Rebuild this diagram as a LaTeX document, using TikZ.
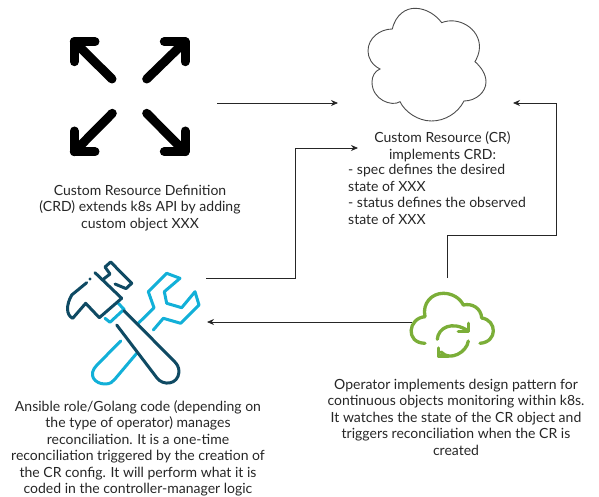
\documentclass[tikz,border=0pt]{standalone}
\usepackage{fontspec}
\setmainfont{Lato}
\usepackage{tikz}
\usetikzlibrary{arrows.meta, positioning}

\definecolor{toolnavy}{HTML}{0F4A63}
\definecolor{toolcyan}{HTML}{12B0D8}
\definecolor{syncgreen}{HTML}{7BAE38}
\tikzset{
    caption/.style={inner sep=0pt, font=\fontsize{14}{16.5}\selectfont, align=center, text=black!85},
    link/.style={-{Stealth[length=7pt,width=6pt]}, line width=0.8pt, black!85},
    bigarrow/.style={line width=9pt, line cap=round, line join=round},
    navyline/.style={toolnavy, line width=3pt, line cap=round, line join=round},
    cyanline/.style={toolcyan, line width=3pt, line cap=round, line join=round},
    greenline/.style={syncgreen, line width=3.3pt, line cap=round, line join=round}
}

\begin{document}
\begin{tikzpicture}[x=1pt,y=-1pt]
    \useasboundingbox (0,0) rectangle (599,497);

    % four arrows
    \draw[bigarrow] (112,79) -- (74.3,41.7);
    \draw[bigarrow] (95,41.7) -- (74.3,41.7) -- (74.3,61.7);
    \draw[bigarrow] (146.7,79) -- (185,41.7);
    \draw[bigarrow] (164.3,41.7) -- (185,41.7) -- (185,61.7);
    \draw[bigarrow] (112.3,113.3) -- (74.3,151.7);
    \draw[bigarrow] (95,151.7) -- (74.3,151.7) -- (74.3,131);
    \draw[bigarrow] (146.7,113.3) -- (185,151.7);
    \draw[bigarrow] (164.3,151.7) -- (185,151.7) -- (185,131);

    % cloud
    \draw[line width=0.9pt, black!70] (392.3,29) .. controls (396,14) and (406,8.3) .. (415,8.3)
        .. controls (426,8.3) and (436,15) .. (441.7,22.7)
        .. controls (458,16) and (479.5,28) .. (479.5,47)
        .. controls (479.5,53) and (477,58) .. (475,61.7)
        .. controls (481,67) and (486,74) .. (486,82)
        .. controls (486,92) and (476,101) .. (464,101)
        .. controls (458,113) and (445,121) .. (431.5,121)
        .. controls (418,121) and (405,112) .. (400,101.7)
        .. controls (392,107) and (372,100) .. (372,82)
        .. controls (372,76) and (375,71) .. (380,69)
        .. controls (372,65) and (368,58) .. (368,51)
        .. controls (368,38) and (380,29) .. (392.3,29) -- cycle;

    % wrench
    \draw[cyanline] (153.3,330) -- (163.3,318.3) -- (180.7,323.3) -- (199,305) -- (195,291.7)
        -- (181.7,307.7) -- (166.7,303.3) -- (164.3,291.7) -- (180,278.3) -- (166.7,273.3)
        -- (148.3,291.7) -- (154,307.7) -- (138.3,323.3);
    \draw[cyanline] (120.7,341) -- (97,365) .. controls (87,375) and (95,384) .. (105,384)
        .. controls (110,384) and (113,382) .. (115,379) -- (136.7,353.3);
    \draw[cyanline] (105,318.3) -- (110,322.3) -- (124,309.3) -- (118.3,303.3);

    % hammer
    \draw[navyline] (116.7,325) -- (157,378) .. controls (163,386) and (178,385) .. (179,372)
        .. controls (179,367) and (177,364) .. (174,361) -- (124,310.7);
    \draw[navyline] (121.7,298.3) -- (99.3,317.7) -- (85.7,303.3) -- (72.7,318.3)
        .. controls (66,315) and (66,305) .. (71.7,295) -- (86.7,282.7);
    \draw[navyline] (95,272.7) -- (121.7,298.3);
    \draw[navyline] (103.3,279.3) -- (110,274) -- (105,267) -- (110.7,262) -- (131.7,283.3)
        -- (126,288.6) -- (115,284);
    \fill[toolnavy] (90,279) circle (1.7);

    % sync cloud
    \draw[greenline] (425,343.3) .. controls (405,343) and (408,318) .. (425,316.7)
        .. controls (422,303) and (432,293.3) .. (443.3,293.3)
        .. controls (452,293.3) and (460,298) .. (463.3,305)
        .. controls (472,303) and (481,308) .. (481.7,318)
        .. controls (497,320) and (498,342) .. (480,343.3);
    \draw[greenline] (437.3,339.3) .. controls (438,328) and (452,320) .. (468.3,331);
    \draw[greenline] (468.3,323.3) -- (468.3,331.7) -- (458.3,331.7);
    \draw[greenline] (468.3,341) .. controls (467,352) and (450,362) .. (441,352);
    \draw[greenline] (438.3,348) -- (438.3,356) -- (448,356);

    % captions
    \node[caption] (crdtext) at (140,208) {Custom Resource Definition\\(CRD) extends k8s API by adding\\custom object XXX};
    \node[caption] (crtitle) at (442.5,147) {Custom Resource (CR)\\implements CRD:};
    \node[caption, align=left, anchor=north west] (crtext) at (348,164) {- spec defines the desired\\state of XXX\\- status defines the observed\\state of XXX};
    \node[caption] (tooltext) at (138,448.5) {Ansible role/Golang code (depending on\\the type of operator) manages\\reconciliation. It is a one-time\\reconciliation triggered by the creation of\\the CR config. It will perform what it is\\coded in the controller-manager logic};
    \node[caption] (optext) at (456,417) {Operator implements design pattern for\\continuous objects monitoring within k8s.\\It watches the state of the CR object and\\triggers reconciliation when the CR is\\created};

    % connector ends
    \coordinate (crdout) at (217,103);
    \coordinate (crleft) at (338,103);
    \coordinate (toolout) at (206,278);
    \coordinate (crmid) at (358,148);
    \coordinate (opup) at (447,278);
    \coordinate (crright) at (513,103);
    \coordinate (opleft) at (412,322);
    \coordinate (toolin) at (207,322);

    \draw[link] (crdout) -- (crleft);
    \draw[link] (toolout) -- (295,278) |- (crmid);
    \draw[link] (opup) -- (447,235) -- (556.5,235) |- (crright);
    \draw[link] (opleft) -- (toolin);
\end{tikzpicture}
\end{document}
